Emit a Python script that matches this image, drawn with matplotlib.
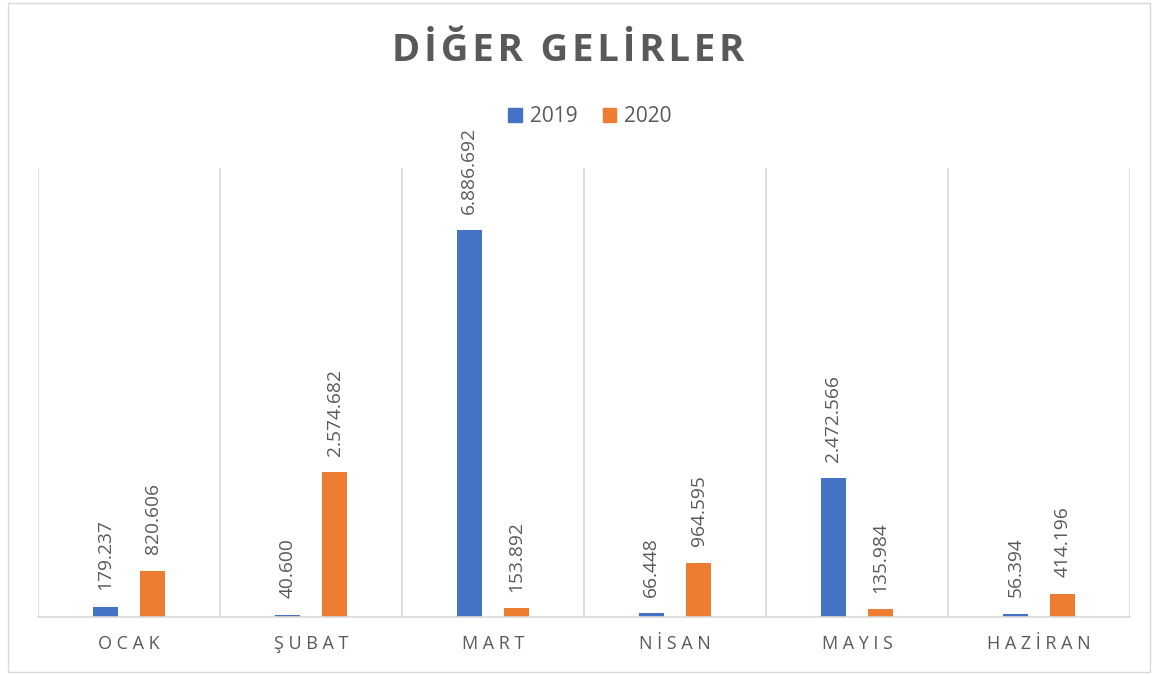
import matplotlib
matplotlib.use("Agg")
import matplotlib.pyplot as plt
from matplotlib.patches import Patch, Rectangle

months = ["OCAK", "ŞUBAT", "MART", "NİSAN", "MAYIS", "HAZİRAN"]
series_names = ["2019", "2020"]
values_2019 = [179237, 40600, 6886692, 66448, 2472566, 56394]
values_2020 = [820606, 2574682, 153892, 964595, 135984, 414196]
title = "DİĞER GELİRLER"

BLUE = "#4472C4"
ORANGE = "#ED7D31"
GRAY = "#595959"
GRID = "#D9D9D9"
FAM = ["Open Sans", "DejaVu Sans"]

def fmt(v):
    return f"{v:,}".replace(",", ".")

def spaced(s, sep):
    return sep.join(list(s))

fig = plt.figure(figsize=(11.54, 6.75), dpi=100)
fig.patches.append(Rectangle((8/1154, 3/675), 1142/1154, 669/675, transform=fig.transFigure,
                             fill=False, edgecolor=GRID, linewidth=1))

ax = fig.add_axes([38/1154, 1-617/675, 1092/1154, (617-168)/675])
x = list(range(len(months)))
w = 0.137
off = 0.13
b1 = ax.bar([i - off for i in x], values_2019, width=w, color=BLUE)
b2 = ax.bar([i + off for i in x], values_2020, width=w, color=ORANGE)

for bars, vals in ((b1, values_2019), (b2, values_2020)):
    for rect, v in zip(bars, vals):
        ax.annotate(fmt(v), (rect.get_x() + rect.get_width()/2, rect.get_height()),
                    xytext=(0, 12), textcoords="offset points", rotation=90,
                    ha="center", va="bottom", fontsize=13.8, color=GRAY, family=FAM)

ax.set_xlim(-0.5, len(months) - 0.5)
ax.set_ylim(0, 8000000)
for b in [i - 0.5 for i in range(len(months) + 1)]:
    ax.axvline(b, color=GRID, linewidth=1.2, zorder=0)
for s in ["top", "left", "right"]:
    ax.spines[s].set_visible(False)
ax.spines["bottom"].set_color(GRID)
ax.spines["bottom"].set_linewidth(1.2)
ax.set_yticks([])
ax.set_xticks(x)
ax.set_xticklabels([spaced(m, " ") for m in months], fontsize=13, color=GRAY, family=FAM)
ax.tick_params(axis="x", length=0, pad=13)

fig.text(0.5 - 9/1154, 1-51/675, spaced(title, "\u200a"), ha="center", va="center",
         fontsize=27.5, fontweight="bold", color=GRAY, family=FAM)

handles = [Patch(color=BLUE, label=series_names[0]), Patch(color=ORANGE, label=series_names[1])]
leg = fig.legend(handles=handles, loc="center", bbox_to_anchor=(590/1154, 1-117/675), ncol=2,
                 frameon=False, prop={"family": FAM, "size": 15}, handlelength=0.65,
                 handleheight=0.65, handletextpad=0.4, columnspacing=1.2)
for t in leg.get_texts():
    t.set_color(GRAY)

fig.savefig("out.png", dpi=100)
